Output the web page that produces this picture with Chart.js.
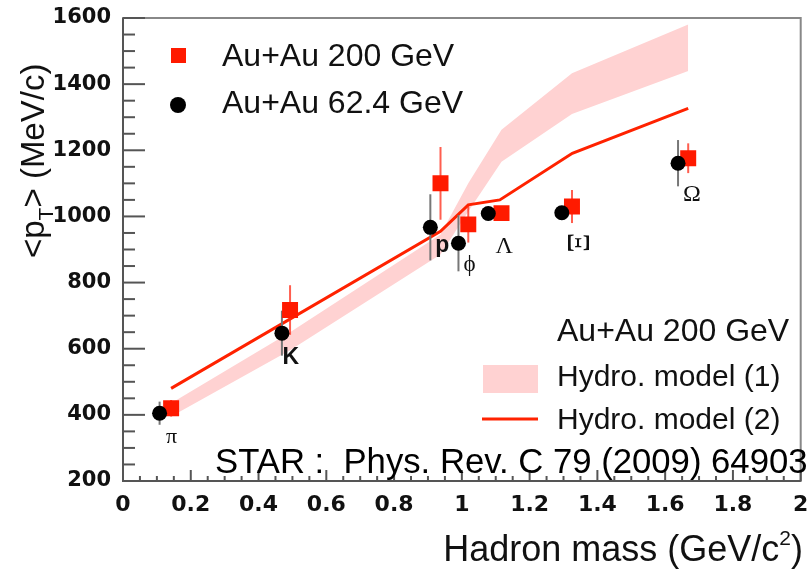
<!DOCTYPE html>
<html>
<head>
<meta charset="utf-8">
<script src="https://cdn.jsdelivr.net/npm/chart.js@4.4.0/dist/chart.umd.min.js"></script>
<style>
  body { margin: 0; background: #fff; }
  #wrap { width: 812px; height: 571px; }
</style>
</head>
<body>
<div id="wrap"><canvas id="ptChart" width="812" height="571"></canvas></div>
<script>
// particles, in mass order
var particles = ['π', 'K', 'p', 'ϕ', 'Λ', 'Ξ', 'Ω'];

// Au+Au 200 GeV (red squares)
var mass200 = [0.142, 0.493, 0.937, 1.019, 1.117, 1.325, 1.668];
var pt200 = [420, 717, 1100, 976, 1010, 1030, 1176];
var err200 = [25, 75, 110, 55, 15, 50, 45];

// Au+Au 62.4 GeV (black circles)
var mass62 = [0.108, 0.469, 0.907, 0.990, 1.078, 1.295, 1.638];
var pt62 = [405, 647, 967, 919, 1009, 1011, 1161];
var err62 = [35, 68, 100, 85, 15, 15, 70];

// Hydro model (2) - line
var hydro2Mass = [0.142, 0.937, 1.019, 1.112, 1.326, 1.668];
var hydro2Pt = [480, 955, 1035, 1050, 1191, 1327];

// Hydro model (1) - band
var hydro1Mass = [0.142, 0.493, 0.937, 1.019, 1.117, 1.325, 1.668];
var hydro1Low = [395, 595, 885, 1015, 1165, 1310, 1440];
var hydro1High = [435, 650, 945, 1100, 1262, 1433, 1580];

var RED = '#ff1a00';
var LINE_RED = '#ff2200';
var PINK = '#ffd2d2';
var SANS = '"Liberation Sans", Arial, sans-serif';
var SERIF = '"Liberation Serif", "DejaVu Serif", serif';

function pts(xs, ys) {
    return xs.map(function (x, i) { return { x: x, y: ys[i] }; });
}

// label offsets (px) from the 62.4 GeV points, and fonts
var labelOffsets = [[12, 24], [9, 24], [12, 18], [11, 22], [16, 33], [14, 30], [14, 32]];
var labelFonts = ['22px ' + SERIF, 'bold 23px ' + SANS, 'bold 23px ' + SANS,
    '23px ' + SERIF, '24px ' + SERIF, '31px ' + SERIF, '24px ' + SERIF];

function txt(ctx, s, x, y, font, align, base) {
    ctx.font = font;
    ctx.textAlign = align || 'left';
    ctx.textBaseline = base || 'middle';
    ctx.fillText(s, x, y);
}

var errorBars = {
    id: 'errorBars',
    beforeDatasetDraw: function (chart, args) {
        if (args.index !== 1) return;
        var ctx = chart.ctx, xs = chart.scales.x, ys = chart.scales.y;
        ctx.save();
        ctx.lineWidth = 2;
        ctx.strokeStyle = 'rgba(255,40,20,0.75)';
        mass200.forEach(function (m, i) {
            var px = xs.getPixelForValue(m);
            ctx.beginPath();
            ctx.moveTo(px, ys.getPixelForValue(pt200[i] - err200[i]));
            ctx.lineTo(px, ys.getPixelForValue(pt200[i] + err200[i]));
            ctx.stroke();
        });
        ctx.strokeStyle = '#777';
        mass62.forEach(function (m, i) {
            var px = xs.getPixelForValue(m);
            ctx.beginPath();
            ctx.moveTo(px, ys.getPixelForValue(pt62[i] - err62[i]));
            ctx.lineTo(px, ys.getPixelForValue(pt62[i] + err62[i]));
            ctx.stroke();
        });
        ctx.restore();
    }
};

var decorations = {
    id: 'decorations',
    afterDraw: function (chart) {
        var ctx = chart.ctx, a = chart.chartArea, xs = chart.scales.x, ys = chart.scales.y;
        ctx.save();

        // frame
        ctx.lineWidth = 2;
        ctx.strokeStyle = '#888';
        ctx.strokeRect(a.left, a.top, a.right - a.left, a.bottom - a.top);
        ctx.strokeStyle = '#555';
        ctx.beginPath();
        ctx.moveTo(a.left, a.top);
        ctx.lineTo(a.left, a.bottom);
        ctx.lineTo(a.right, a.bottom);
        ctx.stroke();

        // ticks inside the frame
        ctx.lineWidth = 2;
        for (var v = 200; v <= 1600; v += 50) {
            var py = ys.getPixelForValue(v);
            var len = (v % 200 === 0) ? 22 : 12;
            ctx.beginPath();
            ctx.moveTo(a.left, py);
            ctx.lineTo(a.left + len, py);
            ctx.stroke();
        }
        for (var i = 0; i <= 40; i++) {
            var px = xs.getPixelForValue(i * 0.05);
            var l = (i % 4 === 0) ? 11 : 5;
            ctx.beginPath();
            ctx.moveTo(px, a.bottom);
            ctx.lineTo(px, a.bottom - l);
            ctx.stroke();
        }

        // particle names
        ctx.fillStyle = '#111';
        particles.forEach(function (name, i) {
            var px = xs.getPixelForValue(mass62[i]) + labelOffsets[i][0];
            var py = ys.getPixelForValue(pt62[i]) + labelOffsets[i][1];
            if (name === 'Ξ') {
                ctx.save();
                ctx.translate(px, py);
                ctx.rotate(Math.PI / 2);
                txt(ctx, name, 0, 0, labelFonts[i], 'center');
                ctx.restore();
            } else {
                txt(ctx, name, px, py, labelFonts[i], 'center');
            }
        });

        // legend top-left
        ctx.fillStyle = RED;
        ctx.fillRect(171, 48, 15, 15);
        ctx.fillStyle = '#000';
        ctx.beginPath();
        ctx.arc(178, 105, 8, 0, Math.PI * 2);
        ctx.fill();
        ctx.fillStyle = '#111';
        txt(ctx, 'Au+Au 200 GeV', 222, 57, '32px ' + SANS);
        txt(ctx, 'Au+Au 62.4 GeV', 222, 104, '32px ' + SANS);

        // legend bottom-right
        txt(ctx, 'Au+Au 200 GeV', 557, 332, '32px ' + SANS);
        ctx.fillStyle = PINK;
        ctx.fillRect(483, 365, 55, 28);
        ctx.strokeStyle = LINE_RED;
        ctx.lineWidth = 3;
        ctx.beginPath();
        ctx.moveTo(482, 419);
        ctx.lineTo(538, 419);
        ctx.stroke();
        ctx.fillStyle = '#111';
        txt(ctx, 'Hydro. model (1)', 557, 378, '30px ' + SANS);
        txt(ctx, 'Hydro. model (2)', 557, 421, '30px ' + SANS);

        // reference
        ctx.fillStyle = '#000';
        txt(ctx, 'STAR :  Phys. Rev. C 79 (2009) 64903', 215, 463, '34.7px ' + SANS);

        // x title (right aligned)
        ctx.fillStyle = '#111';
        var f1 = '36px ' + SANS, f2 = '21px ' + SANS;
        ctx.font = f1;
        var w1 = ctx.measureText('Hadron mass (GeV/c').width;
        var w3 = ctx.measureText(')').width;
        ctx.font = f2;
        var w2 = ctx.measureText('2').width;
        var x0 = 803 - w1 - w2 - w3;
        txt(ctx, 'Hadron mass (GeV/c', x0, 561, f1, 'left', 'alphabetic');
        txt(ctx, '2', x0 + w1, 545, f2, 'left', 'alphabetic');
        txt(ctx, ')', x0 + w1 + w2, 561, f1, 'left', 'alphabetic');

        // y title (rotated)
        ctx.save();
        ctx.translate(44, 258);
        ctx.rotate(-Math.PI / 2);
        var g1 = '33px ' + SANS, g2 = '21px ' + SANS;
        ctx.font = g1;
        var a1 = ctx.measureText('<p').width;
        ctx.font = g2;
        var a2 = ctx.measureText('T').width;
        txt(ctx, '<p', 0, 0, g1, 'left', 'alphabetic');
        txt(ctx, 'T', a1, 9, g2, 'left', 'alphabetic');
        txt(ctx, '> (MeV/c)', a1 + a2, 0, g1, 'left', 'alphabetic');
        ctx.restore();

        ctx.restore();
    }
};

var chartElement = document.getElementById('ptChart');
var ptChart = new Chart(chartElement, {
    type: 'scatter',
    data: {
        datasets: [{
            label: 'Au+Au 62.4 GeV',
            data: pts(mass62, pt62),
            pointStyle: 'circle',
            pointRadius: 7.5,
            backgroundColor: '#000',
            borderWidth: 0,
            order: 0
        }, {
            label: 'Au+Au 200 GeV',
            data: pts(mass200, pt200),
            pointStyle: 'rect',
            pointRadius: 11.3,
            backgroundColor: RED,
            borderWidth: 0,
            order: 1
        }, {
            label: 'Hydro. model (2)',
            data: pts(hydro2Mass, hydro2Pt),
            showLine: true,
            borderColor: LINE_RED,
            borderWidth: 3,
            pointRadius: 0,
            fill: false,
            order: 2
        }, {
            label: 'Hydro. model (1) low',
            data: pts(hydro1Mass, hydro1Low),
            showLine: true,
            borderWidth: 0,
            borderColor: PINK,
            pointRadius: 0,
            fill: false,
            order: 4
        }, {
            label: 'Hydro. model (1)',
            data: pts(hydro1Mass, hydro1High),
            showLine: true,
            borderWidth: 0,
            borderColor: PINK,
            backgroundColor: PINK,
            pointRadius: 0,
            fill: '-1',
            order: 3
        }]
    },
    options: {
        responsive: false,
        animation: false,
        events: [],
        layout: { padding: { top: 18, right: 5, left: 0, bottom: 0 } },
        plugins: {
            legend: { display: false },
            tooltip: { enabled: false }
        },
        scales: {
            x: {
                type: 'linear',
                min: 0,
                max: 2,
                grid: { display: false },
                border: { display: false },
                ticks: {
                    stepSize: 0.2,
                    padding: 3,
                    color: '#111',
                    font: { family: 'DejaVu Sans', weight: 'bold', size: 22 },
                    maxRotation: 0,
                    callback: function (v) { return String(+v.toFixed(1)); }
                },
                afterFit: function (s) { s.height = 90; s.paddingLeft = 0; s.paddingRight = 0; }
            },
            y: {
                min: 200,
                max: 1600,
                grid: { display: false },
                border: { display: false },
                ticks: {
                    stepSize: 200,
                    padding: 4,
                    color: '#111',
                    font: { family: 'DejaVu Sans', weight: 'bold', size: 21 },
                    callback: function (v) { return String(v); }
                },
                afterFit: function (s) { s.width = 123; s.paddingTop = 0; s.paddingBottom = 0; }
            }
        }
    },
    plugins: [errorBars, decorations]
});
</script>
</body>
</html>
